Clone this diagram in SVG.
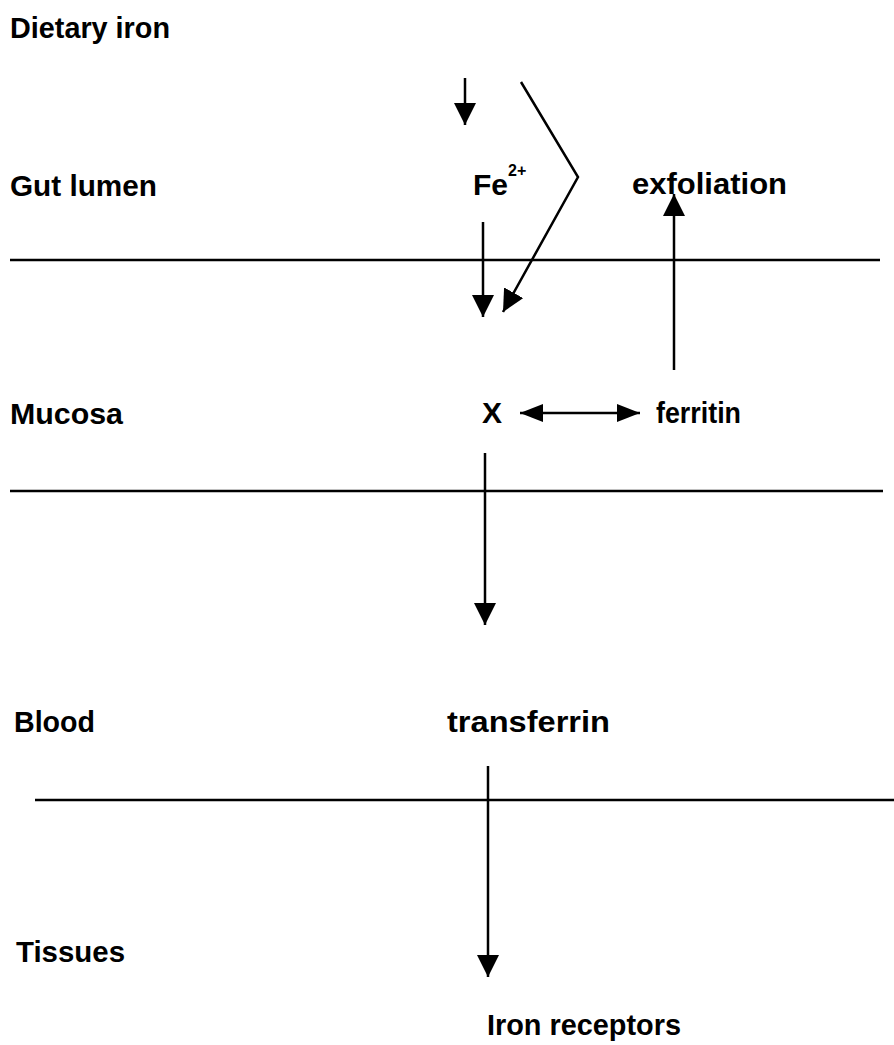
<svg xmlns="http://www.w3.org/2000/svg" width="894" height="1045" viewBox="0 0 894 1045">
<style>
text{font-family:"Liberation Sans",Arial,sans-serif;font-weight:bold;font-size:30px;fill:#000}
.sup{font-size:16px}
.ln{stroke:#000;stroke-width:2.5;fill:none}
.ar{stroke:#000;stroke-width:2.5;fill:none;marker-end:url(#ah)}
</style>
<defs>
<marker id="ah" markerUnits="userSpaceOnUse" markerWidth="22" markerHeight="22" refX="22" refY="11" orient="auto" viewBox="0 0 22 22">
<path d="M0,0 L22,11 L0,22 z" fill="#000"/>
</marker>
<marker id="ah2" markerUnits="userSpaceOnUse" markerWidth="23" markerHeight="18" refX="23" refY="9" orient="auto-start-reverse" viewBox="0 0 23 18">
<path d="M0,0 L23,9 L0,18 z" fill="#000"/>
</marker>
</defs>
<rect width="894" height="1045" fill="#fff"/>
<g id="layers">
<line class="ln" x1="10" y1="260" x2="880" y2="260"/>
<line class="ln" x1="10" y1="491" x2="883" y2="491"/>
<line class="ln" x1="35" y1="800" x2="894" y2="800"/>
</g>
<g id="labels">
<text x="10" y="38" textLength="160" lengthAdjust="spacingAndGlyphs">Dietary iron</text>
<text x="10" y="196" textLength="147" lengthAdjust="spacingAndGlyphs">Gut lumen</text>
<text x="10" y="424" textLength="113" lengthAdjust="spacingAndGlyphs">Mucosa</text>
<text x="14" y="732" textLength="81" lengthAdjust="spacingAndGlyphs">Blood</text>
<text x="16" y="962" textLength="109" lengthAdjust="spacingAndGlyphs">Tissues</text>
</g>
<g id="node-fe"><text x="473" y="195">Fe<tspan class="sup" dy="-19">2+</tspan></text></g>
<g id="node-exfoliation"><text x="632" y="194" textLength="155" lengthAdjust="spacingAndGlyphs">exfoliation</text></g>
<g id="node-x"><text x="482" y="423">X</text></g>
<g id="node-ferritin"><text x="656" y="423" textLength="85" lengthAdjust="spacingAndGlyphs">ferritin</text></g>
<g id="node-transferrin"><text x="447" y="732" textLength="163" lengthAdjust="spacingAndGlyphs">transferrin</text></g>
<g id="node-receptors"><text x="487" y="1035" textLength="194" lengthAdjust="spacingAndGlyphs">Iron receptors</text></g>
<g id="connectors">
<line class="ar" x1="465" y1="78" x2="465" y2="125"/>
<polyline class="ar" points="521,82 578,177 503,312"/>
<line class="ar" x1="483" y1="222" x2="483" y2="317"/>
<line class="ar" x1="674" y1="370" x2="674" y2="194"/>
<line class="ln" x1="520" y1="413" x2="640" y2="413" style="marker-start:url(#ah2);marker-end:url(#ah2)"/>
<line class="ar" x1="485" y1="453" x2="485" y2="625"/>
<line class="ar" x1="488" y1="766" x2="488" y2="977"/>
</g>
</svg>
